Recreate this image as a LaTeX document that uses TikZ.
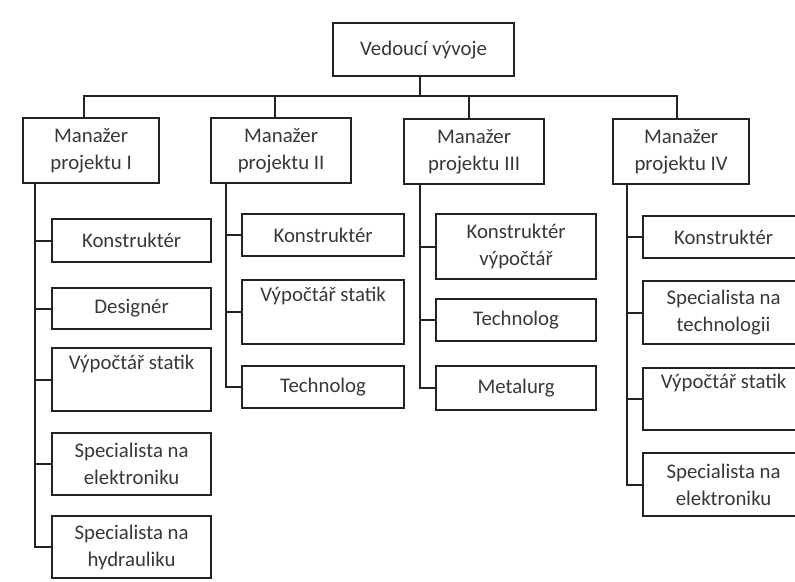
\documentclass[tikz,border=0pt]{standalone}
\usepackage{fontspec}
\setmainfont{Carlito}
\begin{document}
\begin{tikzpicture}[x=1pt,y=-1pt,
  box/.style={draw=linec, line width=2.2pt, anchor=north west, inner sep=0pt,
    align=center, text=txtc, font=\fontsize{20.8}{27}\selectfont},
  link/.style={draw=linec, line width=2.2pt, line cap=rect}]
\definecolor{linec}{HTML}{222222}
\definecolor{txtc}{HTML}{383838}
\useasboundingbox[fill=white] (0,0) rectangle (795,581);

% head of development
\node[box, minimum width=181pt, minimum height=53pt] (root) at (332,22) {Vedoucí vývoje};

% project managers
\node[box, minimum width=136pt, minimum height=65pt] (m1) at (22,117)  {Manažer\\projektu I};
\node[box, minimum width=140pt, minimum height=65pt] (m2) at (210,117) {Manažer\\projektu II};
\node[box, minimum width=140pt, minimum height=65pt] (m3) at (403,118) {Manažer\\projektu III};
\node[box, minimum width=136pt, minimum height=65pt] (m4) at (612,118) {Manažer\\projektu IV};

% team of project I
\node[box, minimum width=159pt, minimum height=43pt] (a1) at (51,218) {Konstruktér};
\node[box, minimum width=159pt, minimum height=41pt] (a2) at (51,287) {Designér};
\node[box, minimum width=159pt, minimum height=63pt] (a3) at (51,347) {Výpočtář statik\\\strut};
\node[box, minimum width=159pt, minimum height=62pt] (a4) at (51,432) {Specialista na\\elektroniku};
\node[box, minimum width=159pt, minimum height=62pt] (a5) at (51,515) {Specialista na\\hydrauliku};

% team of project II
\node[box, minimum width=162pt, minimum height=42pt] (b1) at (241,213) {Konstruktér};
\node[box, minimum width=162pt, minimum height=64pt] (b2) at (241,279) {Výpočtář statik\\\strut};
\node[box, minimum width=162pt, minimum height=42pt] (b3) at (241,365) {Technolog};

% team of project III
\node[box, minimum width=160pt, minimum height=65pt] (c1) at (435,213) {Konstruktér\\výpočtář};
\node[box, minimum width=160pt, minimum height=42pt] (c2) at (435,298) {Technolog};
\node[box, minimum width=160pt, minimum height=44pt] (c3) at (435,365) {Metalurg};

% team of project IV
\node[box, minimum width=161pt, minimum height=42pt] (d1) at (642,215) {Konstruktér};
\node[box, minimum width=161pt, minimum height=63pt] (d2) at (642,280) {Specialista na\\technologii};
\node[box, minimum width=161pt, minimum height=62pt] (d3) at (642,367) {Výpočtář statik\\\strut};
\node[box, minimum width=161pt, minimum height=63pt] (d4) at (642,452) {Specialista na\\elektroniku};

% bus from the head to the managers
\coordinate (top) at ([xshift=-4pt]root.south);
\coordinate (bus) at (0,96);
\draw[link] (top) -- (top |- bus);
\draw[link] ([xshift=-7pt]m1.north) |- ([xshift=-4pt]m4.north |- bus) -- ([xshift=-4pt]m4.north);
\draw[link] ([xshift=-6pt]m2.north) -- ([xshift=-6pt]m2.north |- bus);
\draw[link] ([xshift=-5pt]m3.north) -- ([xshift=-5pt]m3.north |- bus);

% spines down each team
\coordinate (s1) at (35,0);
\coordinate (s2) at (226,0);
\coordinate (s3) at (420,0);
\coordinate (s4) at (627,0);
\draw[link] (s1 |- m1.south) |- (a5.west);
\foreach \n in {a1,a2,a3,a4} \draw[link] (s1 |- \n.west) -- (\n.west);
\draw[link] (s2 |- m2.south) |- (b3.west);
\foreach \n in {b1,b2} \draw[link] (s2 |- \n.west) -- (\n.west);
\draw[link] (s3 |- m3.south) |- (c3.west);
\foreach \n in {c1,c2} \draw[link] (s3 |- \n.west) -- (\n.west);
\draw[link] (s4 |- m4.south) |- (d4.west);
\foreach \n in {d1,d2,d3} \draw[link] (s4 |- \n.west) -- (\n.west);
\end{tikzpicture}
\end{document}
